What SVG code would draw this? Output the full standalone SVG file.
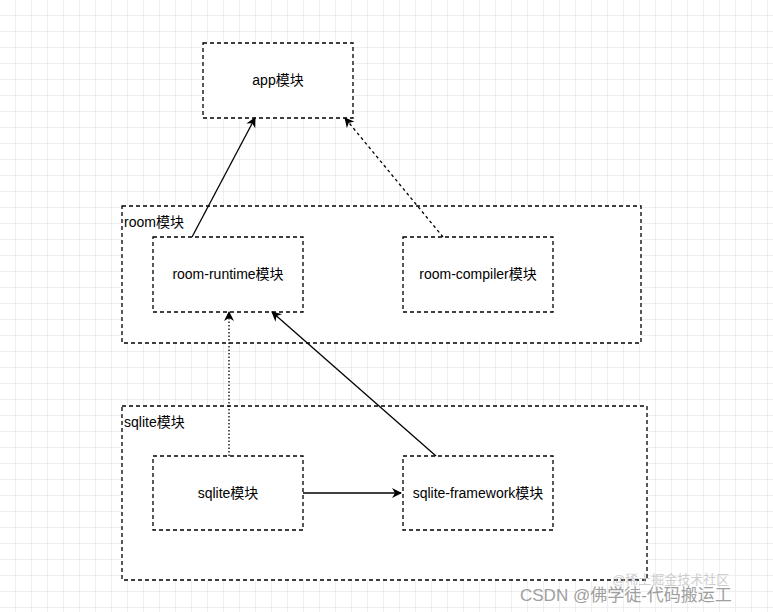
<svg xmlns="http://www.w3.org/2000/svg" width="773" height="612" viewBox="0 0 773 612">
<defs>
<pattern id="g" width="16" height="16" patternUnits="userSpaceOnUse"><path d="M16 0V16H0" fill="none" stroke="#dedede" stroke-width="1"/></pattern>
<marker id="a" markerWidth="10" markerHeight="10" refX="9" refY="5" orient="auto" markerUnits="userSpaceOnUse"><path d="M0 0L10 5L0 10L3 5Z" fill="#000"/></marker>
</defs>
<style>
.b{fill:#fff;stroke:#000;stroke-width:1.3;stroke-dasharray:4 3}
text{font-family:"Liberation Sans","Noto Sans CJK SC",sans-serif;font-size:14px;fill:#000}
.c{text-anchor:middle}
.l{stroke:#000;stroke-width:1.3;fill:none;marker-end:url(#a)}
</style>
<rect width="773" height="612" fill="#fff"/>
<rect width="773" height="612" fill="url(#g)"/>
<g id="room"><rect class="b" x="122" y="206" width="519" height="137"/><text x="124" y="227">room模块</text></g>
<g id="sqlite"><rect class="b" x="122" y="406" width="525" height="174"/><text x="124" y="427">sqlite模块</text></g>
<g id="app"><rect class="b" x="203" y="43" width="150" height="75"/><text class="c" x="278" y="85">app模块</text></g>
<g id="room-runtime"><rect class="b" x="153" y="237" width="150" height="75"/><text class="c" x="228" y="279">room-runtime模块</text></g>
<g id="room-compiler"><rect class="b" x="403" y="237" width="150" height="75"/><text class="c" x="478" y="279">room-compiler模块</text></g>
<g id="sqlite-node"><rect class="b" x="153" y="456" width="150" height="74"/><text class="c" x="228" y="498">sqlite模块</text></g>
<g id="sqlite-framework"><rect class="b" x="403" y="456" width="150" height="74"/><text class="c" x="478" y="498">sqlite-framework模块</text></g>
<g id="connectors">
<path class="l" d="M192 237L255 118"/>
<path class="l" d="M443 237L345 118" stroke-dasharray="3 3"/>
<path class="l" d="M229 456V312" stroke-dasharray="1.5 2"/>
<path class="l" d="M436 456L272 312"/>
<path class="l" d="M303 493H401"/>
</g>
<text x="612" y="584" style="font-size:13px;fill:#bbb;opacity:0.7">@稀土掘金技术社区</text>
<text x="520" y="601" style="font-size:17px;fill:#888;opacity:0.8">CSDN @佛学徒-代码搬运工</text>
</svg>
